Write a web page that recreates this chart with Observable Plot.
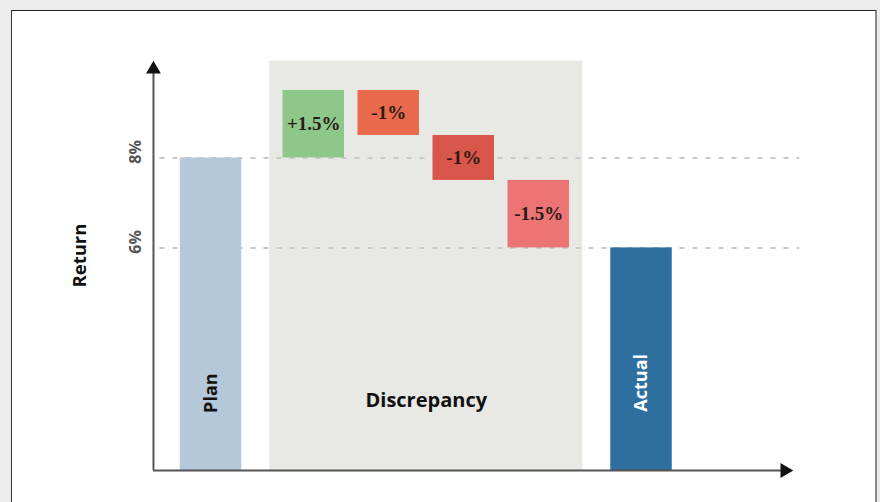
<!DOCTYPE html>
<html>
<head>
<meta charset="utf-8">
<script src="https://cdn.jsdelivr.net/npm/d3@7"></script>
<script src="https://cdn.jsdelivr.net/npm/@observablehq/plot@0.6"></script>
<style>
  html, body { margin: 0; padding: 0; background: #ebebeb; width: 880px; height: 502px; overflow: hidden; }
  #frame { position: absolute; left: 11px; top: 10px; width: 866px; height: 520px; background: #fff;
           border-top: 1.5px solid #222; border-left: 1.5px solid #333; border-right: 2px solid #888; box-sizing: border-box; }
  #chart { position: absolute; left: 0; top: 0; }
</style>
</head>
<body>
<div id="frame"></div>
<div id="chart"></div>
<script>
// ---- data ----
const planLabel = "Plan";
const planValue = 8;
const actualLabel = "Actual";
const actualValue = 6;
const groupLabel = "Discrepancy";
const stepLabels = ["+1.5%", "-1%", "-1%", "-1.5%"];
const stepDeltas = [1.5, -1, -1, -1.5];
const yTickValues = [6, 8];
const yTickLabels = ["6%", "8%"];
const yAxisTitle = "Return";

// ---- styles ----
const stepColors = ["#8dc88a", "#ea6a4d", "#d9574a", "#ec7474"];
const planColor = "#b5c8da";
const actualColor = "#2f6f9f";

// ---- layout helpers (x in slot units) ----
const gap = 1.37;            // extra spacing between groups
const half = 0.41;           // half bar width
const yBase = 1.05, yTop = 10.15;
const planX = 0;
const stepX = stepDeltas.map((d, i) => gap + i);
const actualX = gap * 2 + stepDeltas.length - 1;
const axisX = -0.767, axisEnd = 7.65, gridX1 = -0.68, gridX2 = 7.85;
const endLabelY = [2.77, 3.0];

let run = planValue;
const steps = stepDeltas.map((d, i) => {
  const y1 = run; run += d;
  return {x: stepX[i], y1, y2: run, label: stepLabels[i], color: stepColors[i]};
});
const ends = [
  {x: planX, v: planValue, label: planLabel, color: planColor, text: "#111"},
  {x: actualX, v: actualValue, label: actualLabel, color: actualColor, text: "#fff"}
];

const chart = Plot.plot({
  width: 880, height: 502, margin: 0,
  style: {background: "transparent", overflow: "visible", fontFamily: "Open Sans"},
  x: {type: "linear", domain: [0, 5.74], range: [210.5, 641], axis: null},
  y: {type: "linear", domain: [yBase, 10.1], range: [470, 63], axis: null},
  marks: [
    // discrepancy panel
    Plot.rect([groupLabel], {x1: stepX[0] - 0.587, x2: stepX[stepX.length - 1] + 0.587, y1: yBase, y2: yTop, fill: "#e8e8e4"}),
    // dashed reference lines
    Plot.ruleY(yTickValues, {x1: gridX1, x2: gridX2, stroke: "#c8c8c8", strokeWidth: 2, strokeDasharray: "5,8"}),
    // plan & actual bars
    Plot.rect(ends, {x1: d => d.x - half, x2: d => d.x + half, y1: yBase, y2: "v", fill: "color"}),
    // waterfall steps
    Plot.rect(steps, {x1: d => d.x - half, x2: d => d.x + half, y1: "y1", y2: "y2", fill: "color"}),
    Plot.text(steps, {x: "x", y: d => (d.y1 + d.y2) / 2, text: "label", fill: "#2a1a14",
      fontFamily: "Liberation Serif", fontWeight: "bold", fontSize: 19}),
    // axes
    Plot.ruleX([axisX], {y1: yBase, y2: 9.95, stroke: "#555", strokeWidth: 2}),
    Plot.ruleY([yBase], {x1: axisX, x2: axisEnd, stroke: "#555", strokeWidth: 2}),
    Plot.dot([axisX], {x: d => d, y: 9.97, symbol: "triangle", r: 5.5, fill: "#111", stroke: "none"}),
    Plot.dot([axisEnd], {x: d => d, y: yBase, symbol: "triangle", r: 5.5, fill: "#111", stroke: "none", rotate: 90}),
    // tick labels
    Plot.text(yTickLabels, {x: -1.0, y: (d, i) => yTickValues[i], dy: -6, text: d => d, rotate: -90,
      fill: "#555", fontSize: 16, fontWeight: "bold"}),
    // axis title
    Plot.text([yAxisTitle], {x: -1.75, y: 5.83, text: d => d, rotate: -90, fontSize: 18.5, fontWeight: "bold", fill: "#111"}),
    // bar labels
    Plot.text(ends, {x: "x", y: (d, i) => endLabelY[i], text: "label", rotate: -90, fontSize: 18, fontWeight: "bold", fill: "text"}),
    Plot.text([groupLabel], {x: (stepX[0] + stepX[stepX.length - 1]) / 2, y: 2.6, text: d => d, fontSize: 20, fontWeight: "bold", fill: "#111"})
  ]
});
document.getElementById("chart").appendChild(chart);
</script>
</body>
</html>
